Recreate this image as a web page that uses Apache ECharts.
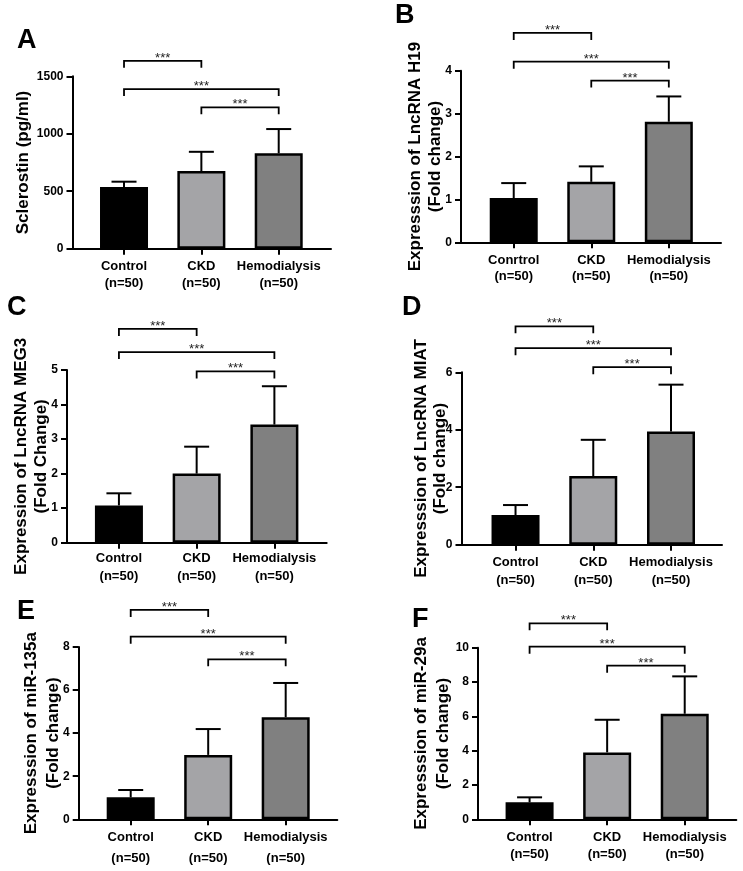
<!DOCTYPE html>
<html>
<head>
<meta charset="utf-8">
<script src="https://cdn.jsdelivr.net/npm/echarts@6/dist/echarts.min.js"></script>
<style>
html,body{margin:0;padding:0;background:#fff;}
#chart{width:743px;height:871px;}
</style>
</head>
<body>
<div id="chart"></div>
<script>
// ---------- data ----------
const groups = ['Control', 'CKD', 'Hemodialysis'];
const groupsB = ['Conrtrol', 'CKD', 'Hemodialysis'];
const nLabel = '(n=50)';
const sig = '***';

const titleA = 'Sclerostin (pg/ml)';
const meanA = [536, 676, 830];
const sdA = [47, 167, 211];
const bracketsA = [[0, 1, 1635], [0, 2, 1389], [1, 2, 1230]];

const titleB = 'Expresssion of LncRNA H19\n(Fold change)';
const meanB = [1.03, 1.41, 2.81];
const sdB = [0.35, 0.36, 0.59];
const bracketsB = [[0, 1, 4.88], [0, 2, 4.21], [1, 2, 3.77]];

const titleC = 'Expression of LncRNA MEG3\n(Fold Change)';
const meanC = [1.08, 2.0, 3.42];
const sdC = [0.35, 0.78, 1.11];
const bracketsC = [[0, 1, 6.19], [0, 2, 5.52], [1, 2, 4.96]];

const titleD = 'Expresssion of LncRNA MIAT\n(Fold change)';
const meanD = [1.03, 2.39, 3.94];
const sdD = [0.35, 1.26, 1.63];
const bracketsD = [[0, 1, 7.60], [0, 2, 6.84], [1, 2, 6.18]];

const titleE = 'Expresssion of miR-135a\n(Fold change)';
const meanE = [1.02, 2.99, 4.74];
const sdE = [0.34, 1.20, 1.59];
const bracketsE = [[0, 1, 9.72], [0, 2, 8.48], [1, 2, 7.43]];

const titleF = 'Expresssion of miR-29a\n(Fold change)';
const meanF = [0.99, 3.90, 6.15];
const sdF = [0.29, 1.90, 2.18];
const bracketsF = [[0, 1, 11.42], [0, 2, 10.06], [1, 2, 8.95]];

// ---------- layout / style ----------
const FONT = "'Liberation Sans', Arial, Helvetica, sans-serif";
const fills = ['#000000', '#a4a4a7', '#808080'];

const panels = [
  {letter:'A', cats:groups,  mean:meanA, sd:sdA, br:bracketsA, title:titleA, ymax:1500, yint:500,
   xmin:-0.666, xmax:2.676, left:72.5, top:76.3, w:258.5, h:172.4, nameGap:39.5, nameLH:20, labLH:17, labMargin:9, lx:17, ly:38},
  {letter:'B', cats:groupsB, mean:meanB, sd:sdB, br:bracketsB, title:titleB, ymax:4, yint:1,
   xmin:-0.68, xmax:2.673, left:461, top:70.7, w:260, h:171.6, nameGap:16, nameLH:20, labLH:16, labMargin:10, lx:395, ly:13.5},
  {letter:'C', cats:groups,  mean:meanC, sd:sdC, br:bracketsC, title:titleC, ymax:5, yint:1,
   xmin:-0.668, xmax:2.673, left:67, top:370, w:259.7, h:172.7, nameGap:15.5, nameLH:20, labLH:18, labMargin:7, lx:7, ly:305},
  {letter:'D', cats:groups,  mean:meanD, sd:sdD, br:bracketsD, title:titleD, ymax:6, yint:2,
   xmin:-0.695, xmax:2.656, left:461.5, top:372.3, w:260.5, h:172.4, nameGap:12, nameLH:19, labLH:18, labMargin:9, lx:402, ly:305},
  {letter:'E', cats:groups,  mean:meanE, sd:sdE, br:bracketsE, title:titleE, ymax:8, yint:2,
   xmin:-0.671, xmax:2.666, left:78.7, top:647, w:258.6, h:172.3, nameGap:14, nameLH:22, labLH:21, labMargin:7.5, lx:17, ly:609},
  {letter:'F', cats:groups,  mean:meanF, sd:sdF, br:bracketsF, title:titleF, ymax:10, yint:2,
   xmin:-0.665, xmax:2.665, left:478, top:647.7, w:258.3, h:171.6, nameGap:23.5, nameLH:22, labLH:17, labMargin:10, lx:412, ly:617.5}
];

const axisLineStyle = {color:'#000', width:2};

const option = {
  animation:false,
  backgroundColor:'#ffffff',
  grid:[], xAxis:[], yAxis:[], series:[], graphic:[]
};

panels.forEach((p, k) => {
  option.grid.push({left:p.left, top:p.top, width:p.w, height:p.h, containLabel:false, outerBoundsMode:'none'});
  option.xAxis.push({
    gridIndex:k, type:'value', min:p.xmin, max:p.xmax,
    axisLine:{show:true, onZero:false, lineStyle:axisLineStyle},
    axisTick:{show:true, customValues:[0,1,2], length:6, lineStyle:axisLineStyle},
    axisLabel:{show:true, customValues:[0,1,2], color:'#000', fontFamily:FONT, fontWeight:'bold', fontSize:13,
      lineHeight:p.labLH, margin:p.labMargin,
      formatter:(v) => p.cats[Math.round(v)] + '\n' + nLabel},
    splitLine:{show:false}
  });
  option.yAxis.push({
    gridIndex:k, type:'value', min:0, max:p.ymax, interval:p.yint,
    name:p.title, nameLocation:'middle', nameRotate:90, nameGap:p.nameGap, nameMoveOverlap:false,
    nameTextStyle:{color:'#000', fontFamily:FONT, fontWeight:'bold', fontSize:17, lineHeight:p.nameLH, align:'center'},
    axisLine:{show:true, onZero:false, lineStyle:axisLineStyle},
    axisTick:{show:true, length:6, lineStyle:axisLineStyle},
    axisLabel:{color:'#000', fontFamily:FONT, fontWeight:'bold', fontSize:12, margin:9,
      formatter:(v) => String(v)},
    splitLine:{show:false}
  });
  option.series.push({
    type:'bar', xAxisIndex:k, yAxisIndex:k, barWidth:48, z:2,
    data:p.mean.map((m, i) => ({value:[i, m], itemStyle:{color:fills[i]}})),
    itemStyle:{borderColor:'#000', borderWidth:2.5}
  });
  option.series.push({
    type:'custom', xAxisIndex:k, yAxisIndex:k, z:3,
    data:p.mean.map((m, i) => [i, m, m + p.sd[i]]),
    encode:{x:0, y:[1, 2]},
    renderItem:(params, api) => {
      const x = api.value(0), m = api.value(1), t = api.value(2);
      const p0 = api.coord([x, m]), p1 = api.coord([x, t]);
      return {type:'group', children:[
        {type:'line', shape:{x1:p0[0], y1:p0[1], x2:p1[0], y2:p1[1]}, style:{stroke:'#000', lineWidth:2}},
        {type:'line', shape:{x1:p1[0]-12.5, y1:p1[1], x2:p1[0]+12.5, y2:p1[1]}, style:{stroke:'#000', lineWidth:2}}
      ]};
    }
  });
  option.series.push({
    type:'custom', xAxisIndex:k, yAxisIndex:k, z:4, clip:false,
    data:p.br.map(b => [b[0], b[1], b[2]]),
    encode:{x:[0, 1], y:2},
    renderItem:(params, api) => {
      const a = api.value(0), b = api.value(1), y = api.value(2);
      const q1 = api.coord([a, y]), q2 = api.coord([b, y]);
      const leg = 7;
      return {type:'group', children:[
        {type:'polyline', shape:{points:[[q1[0], q1[1]+leg], [q1[0], q1[1]], [q2[0], q2[1]], [q2[0], q2[1]+leg]]},
          style:{stroke:'#000', lineWidth:1.8, fill:null}},
        {type:'text', x:(q1[0]+q2[0])/2, y:q1[1]-2.5,
          style:{text:sig, fontFamily:FONT, fontSize:13, fill:'#222', align:'center', verticalAlign:'middle'}}
      ]};
    }
  });
  option.graphic.push({
    type:'text', left:p.lx, top:p.ly - 11,
    style:{text:p.letter, fontFamily:FONT, fontWeight:'bold', fontSize:27, fill:'#000'}
  });
});

const chart = echarts.init(document.getElementById('chart'), null, {renderer:'canvas'});
chart.setOption(option);
</script>
</body>
</html>
